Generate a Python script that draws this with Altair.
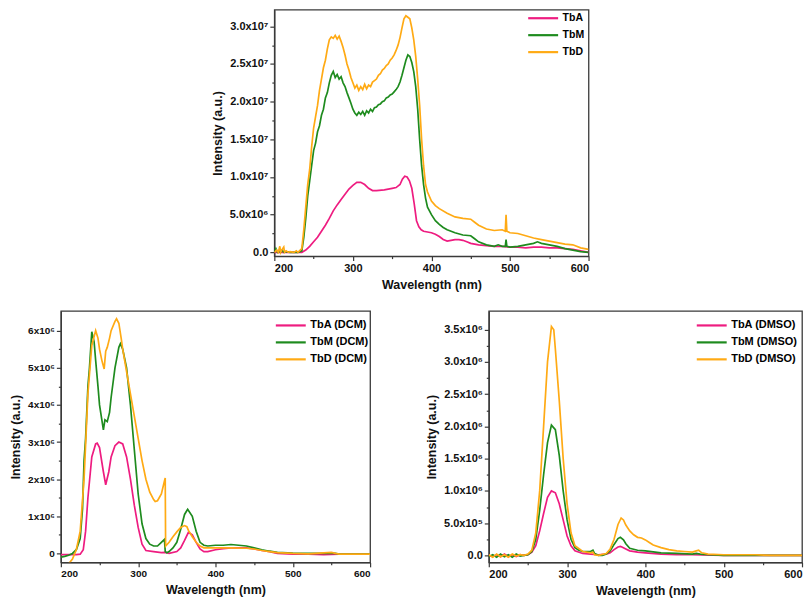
import altair as alt
import pandas as pd

# ---------------- data (top panel, units of 1e7) ----------------
top_A_wl = [200, 210, 220, 230, 235, 240, 245, 250, 255, 260, 265, 270, 275, 280, 285, 290, 295, 300, 305, 310,
            315, 320, 325, 330, 340, 350, 355, 360, 363, 366, 369, 372, 375, 378, 381, 384, 387, 390, 395, 400,
            405, 410, 415, 420, 425, 430, 435, 440, 445, 450, 460, 470, 480, 490, 500, 510, 520, 530, 540, 550,
            560, 570, 580, 590, 600]
top_A_val = [0.0, 0.0, 0.0, 0.0, 0.0, 0.03, 0.08, 0.14, 0.2, 0.28, 0.36, 0.45, 0.55, 0.63, 0.7, 0.77, 0.84, 0.89, 0.93, 0.93,
             0.9, 0.85, 0.82, 0.82, 0.83, 0.85, 0.86, 0.9, 0.97, 1.01, 1.0, 0.95, 0.85, 0.65, 0.42, 0.34, 0.3, 0.28, 0.27, 0.26,
             0.24, 0.21, 0.17, 0.15, 0.16, 0.17, 0.17, 0.16, 0.14, 0.12, 0.1, 0.09, 0.08, 0.08, 0.07, 0.07, 0.06, 0.07, 0.07, 0.06,
             0.06, 0.05, 0.04, 0.02, 0.0]

top_M_wl = [200, 202, 204, 206, 208, 210, 212, 215, 220, 225, 230, 235, 237.5, 240, 242.5, 245, 247.5, 250, 252.5, 255,
            257.5, 260, 262.5, 265, 267.5, 270, 272.5, 275, 277.5, 280, 282.5, 285, 287.5, 290, 292.5, 295, 297.5, 300,
            302.5, 305, 307.5, 310, 312.5, 315, 317.5, 320, 322.5, 325, 327.5, 330, 332.5, 335, 337.5, 340, 342.5, 345,
            347.5, 350, 352.5, 355, 357.5, 360, 362.5, 365, 367.5, 370, 372.5, 375, 377.5, 380, 382.5, 385, 387.5, 390,
            392.5, 395, 400, 405, 410, 415, 420, 430, 440, 450, 455, 460, 470, 480, 485, 490, 494, 495, 496, 500, 510,
            520, 530, 535, 540, 545, 550, 560, 570, 580, 590, 600]
top_M_val = [0.0, 0.05, 0.0, 0.02, 0.0, 0.03, 0.0, 0.01, 0.0, 0.0, 0.0, 0.02, 0.2, 0.45, 0.75, 0.95, 1.15, 1.35, 1.45, 1.6,
             1.68, 1.82, 1.9, 2.05, 2.12, 2.25, 2.35, 2.4, 2.32, 2.36, 2.3, 2.33, 2.25, 2.2, 2.12, 2.05, 1.98, 1.9,
             1.85, 1.82, 1.86, 1.83, 1.87, 1.82, 1.88, 1.85, 1.9, 1.87, 1.92, 1.93, 1.96, 1.97, 2.0, 2.01, 2.05, 2.06,
             2.09, 2.1, 2.13, 2.16, 2.2, 2.26, 2.35, 2.45, 2.55, 2.62, 2.6, 2.52, 2.4, 2.2, 1.9, 1.5, 1.15, 0.9,
             0.72, 0.6, 0.5, 0.42, 0.37, 0.33, 0.3, 0.26, 0.23, 0.22, 0.18, 0.14, 0.1, 0.08, 0.1, 0.08, 0.08, 0.17, 0.08, 0.07, 0.08,
             0.1, 0.12, 0.14, 0.12, 0.11, 0.1, 0.08, 0.05, 0.03, 0.01, 0.0]

top_D_wl = [200, 203, 205, 207, 208, 210, 212, 213, 215, 218, 220, 225, 228, 230, 233, 235, 237.5, 240, 242.5, 245,
            247.5, 250, 252.5, 255, 257.5, 260, 262.5, 265, 267.5, 270, 272.5, 275, 277.5, 280, 282.5, 285, 287.5, 290,
            292.5, 295, 297.5, 300, 302.5, 305, 307.5, 310, 312.5, 315, 317.5, 320, 322.5, 325, 327.5, 330, 332.5, 335,
            337.5, 340, 342.5, 345, 347.5, 350, 352.5, 355, 357.5, 360, 362.5, 365, 367.5, 370, 372.5, 375, 377.5, 380,
            382.5, 385, 387.5, 390, 392.5, 395, 400, 405, 410, 420, 430, 440, 450, 455, 460, 470, 480, 490, 494, 495,
            496, 500, 510, 520, 530, 540, 550, 560, 570, 580, 590, 600]
top_D_val = [0.0, 0.03, 0.0, 0.08, 0.0, 0.04, 0.07, 0.0, 0.02, 0.0, 0.01, 0.0, 0.02, 0.0, 0.03, 0.05, 0.3, 0.6, 0.9, 1.1,
             1.4, 1.65, 1.8, 1.95, 2.15, 2.3, 2.45, 2.55, 2.7, 2.82, 2.86, 2.84, 2.88, 2.83, 2.87, 2.8, 2.72, 2.62,
             2.5, 2.42, 2.32, 2.25, 2.18, 2.22, 2.15, 2.2, 2.16, 2.23, 2.17, 2.22, 2.2, 2.26, 2.28, 2.3, 2.35, 2.37,
             2.42, 2.44, 2.48, 2.5, 2.55, 2.58, 2.62, 2.68, 2.75, 2.85, 2.98, 3.1, 3.14, 3.12, 3.1, 2.98, 2.82, 2.6,
             2.3, 1.95, 1.5, 1.15, 0.9, 0.8, 0.68, 0.62, 0.58, 0.52, 0.47, 0.45, 0.44, 0.4, 0.36, 0.31, 0.29, 0.3, 0.28, 0.5,
             0.28, 0.26, 0.25, 0.22, 0.19, 0.17, 0.15, 0.13, 0.11, 0.1, 0.06, 0.04]

# ---------------- data (DCM panel, units of 1e6) ----------------
dcm_A_wl = [200, 210, 220, 225, 229, 232, 235, 240, 245, 247, 250, 255, 258, 262, 265, 270, 275, 280, 285, 290,
            295, 300, 305, 310, 320, 330, 335, 340, 350, 355, 360, 365, 370, 375, 380, 385, 390, 400, 410, 420,
            430, 440, 450, 460, 470, 480, 500, 520, 540, 560, 580, 600]
dcm_A_val = [-0.03, -0.03, -0.03, -0.02, 0.1, 0.6, 1.5, 2.6, 2.95, 2.97, 2.85, 2.2, 1.85, 2.2, 2.6, 2.9, 3.0, 2.95, 2.6, 2.0,
             1.3, 0.7, 0.25, 0.08, 0.05, 0.02, 0.03, 0.0, 0.05, 0.15, 0.35, 0.57, 0.5, 0.3, 0.12, 0.05, 0.05, 0.1, 0.13, 0.15,
             0.15, 0.15, 0.12, 0.08, 0.05, 0.0, -0.02, -0.02, -0.03, -0.02, -0.02, -0.02]

dcm_M_wl = [200, 205, 210, 215, 220, 225, 228, 230, 232, 235, 237, 240, 243, 245, 248, 250, 253, 255, 257, 260,
            263, 265, 270, 275, 277, 280, 285, 290, 295, 300, 305, 310, 315, 320, 325, 330, 334, 335, 337, 340,
            345, 350, 355, 360, 364, 370, 375, 380, 385, 390, 400, 410, 420, 430, 440, 450, 460, 470, 480, 500,
            520, 540, 555, 560, 580, 600]
dcm_M_val = [-0.1, -0.08, -0.05, 0.0, 0.1, 0.4, 1.2, 2.5, 3.1, 4.5, 5.0, 5.97, 5.7, 5.2, 4.5, 4.0, 3.6, 3.33, 3.6, 3.55,
             3.8, 4.2, 5.0, 5.55, 5.65, 5.5, 5.0, 4.0, 2.8, 1.6, 0.8, 0.4, 0.25, 0.2, 0.2, 0.3, 0.38, 0.05, 0.02, 0.05,
             0.15, 0.3, 0.65, 1.05, 1.19, 1.0, 0.6, 0.3, 0.22, 0.2, 0.22, 0.22, 0.24, 0.22, 0.2, 0.15, 0.1, 0.06, 0.03, 0.01,
             0.0, 0.0, 0.0, -0.02, -0.02, -0.02]

dcm_D_wl = [200, 205, 210, 215, 220, 225, 230, 235, 240, 245, 248, 250, 253, 256, 258, 260, 263, 265, 270, 272,
            275, 278, 280, 285, 290, 295, 300, 305, 310, 315, 320, 322, 325, 330, 334, 335, 335.5, 340, 345, 350,
            355, 360, 363, 365, 370, 375, 380, 385, 390, 400, 420, 440, 450, 460, 470, 480, 500, 520, 550, 555,
            560, 580, 600]
dcm_D_val = [-0.3, -0.3, -0.28, -0.15, 0.1, 0.6, 2.0, 4.3, 5.6, 6.0, 5.8, 5.5, 5.2, 4.97, 5.45, 5.55, 5.8, 6.0, 6.25, 6.32,
             6.2, 5.8, 5.5, 4.9, 4.3, 3.7, 3.1, 2.5, 2.0, 1.65, 1.45, 1.4, 1.42, 1.6, 1.95, 2.03, 0.2, 0.3, 0.45, 0.58,
             0.7, 0.75, 0.72, 0.62, 0.45, 0.3, 0.2, 0.15, 0.15, 0.15, 0.15, 0.14, 0.12, 0.08, 0.05, 0.02, 0.0, -0.01, 0.03, 0.0,
             -0.02, -0.02, -0.02]

# ---------------- data (DMSO panel, units of 1e6) ----------------
dmso_A_wl = [200, 205, 210, 215, 220, 225, 230, 235, 240, 245, 250, 255, 260, 265, 270, 275, 280, 285, 290, 295,
             300, 305, 310, 320, 330, 340, 350, 355, 360, 365, 368, 370, 375, 380, 390, 400, 420, 440, 460, 500,
             550, 600]
dmso_A_val = [0.0, -0.02, 0.01, -0.02, 0.02, -0.02, 0.01, -0.02, 0.01, 0.0, 0.01, 0.05, 0.15, 0.38, 0.65, 0.9, 1.0, 0.97, 0.8, 0.55,
              0.3, 0.15, 0.07, 0.03, 0.02, 0.01, 0.02, 0.04, 0.09, 0.13, 0.14, 0.13, 0.1, 0.07, 0.05, 0.04, 0.02, 0.01, 0.01, 0.0,
              0.0, 0.0]

dmso_M_wl = [200, 205, 210, 215, 220, 225, 230, 235, 240, 245, 250, 255, 260, 265, 270, 275, 280, 285, 290, 295,
             300, 305, 310, 315, 320, 330, 333, 335, 340, 345, 350, 355, 360, 365, 368, 372, 375, 380, 390, 400,
             420, 440, 460, 465, 470, 480, 500, 550, 600]
dmso_M_val = [-0.02, 0.01, -0.03, 0.02, -0.02, 0.01, -0.03, 0.02, -0.01, 0.0, 0.01, 0.06, 0.25, 0.7, 1.25, 1.75, 2.02, 1.95, 1.55, 1.0,
              0.55, 0.25, 0.12, 0.08, 0.06, 0.06, 0.08, 0.03, 0.0, 0.0, 0.02, 0.07, 0.17, 0.26, 0.28, 0.24, 0.18, 0.11, 0.08, 0.07,
              0.04, 0.03, 0.02, 0.03, 0.02, 0.01, 0.0, 0.0, 0.0]

dmso_D_wl = [200, 205, 210, 215, 220, 225, 230, 235, 240, 245, 250, 255, 260, 265, 270, 275, 280, 283, 285, 290,
             295, 300, 305, 310, 320, 330, 333, 335, 340, 350, 355, 360, 365, 369, 372, 375, 380, 385, 390, 395,
             400, 405, 410, 420, 430, 440, 450, 460, 465, 468, 472, 480, 500, 520, 540, 560, 600]
dmso_D_val = [0.01, -0.03, 0.02, -0.02, 0.01, -0.03, 0.02, -0.01, 0.01, 0.0, 0.02, 0.08, 0.35, 1.0, 2.0, 3.0, 3.55, 3.5, 3.2, 2.4,
              1.5, 0.8, 0.35, 0.15, 0.06, 0.04, 0.05, 0.01, 0.0, 0.03, 0.1, 0.25, 0.48, 0.58, 0.55, 0.47, 0.38, 0.32, 0.28, 0.27,
              0.24, 0.2, 0.16, 0.12, 0.09, 0.07, 0.06, 0.05, 0.07, 0.08, 0.04, 0.02, 0.01, 0.01, 0.01, 0.0, 0.0]

# ---------------- axis ticks / labels ----------------
x_major = [200, 300, 400, 500, 600]
x_minor = [250, 350, 450, 550]
top_vals = [0, 5e6, 1e7, 1.5e7, 2e7, 2.5e7, 3e7]
top_minor = [2.5e6, 7.5e6, 1.25e7, 1.75e7, 2.25e7, 2.75e7]
top_labs = ["0.0", "5.0x10⁶", "1.0x10⁷", "1.5x10⁷", "2.0x10⁷", "2.5x10⁷", "3.0x10⁷"]
dcm_vals = [0, 1e6, 2e6, 3e6, 4e6, 5e6, 6e6]
dcm_minor = [5e5, 1.5e6, 2.5e6, 3.5e6, 4.5e6, 5.5e6]
dcm_labs = ["0", "1x10⁶", "2x10⁶", "3x10⁶", "4x10⁶", "5x10⁶", "6x10⁶"]
dmso_vals = [0, 5e5, 1e6, 1.5e6, 2e6, 2.5e6, 3e6, 3.5e6]
dmso_minor = [2.5e5, 7.5e5, 1.25e6, 1.75e6, 2.25e6, 2.75e6, 3.25e6]
dmso_labs = ["0.0", "5.0x10⁵", "1.0x10⁶", "1.5x10⁶", "2.0x10⁶", "2.5x10⁶", "3.0x10⁶", "3.5x10⁶"]

COLORS = ["#EE1C80", "#1E8B1E", "#FFAA14"]
FONT = "Liberation Sans"
FRAME = "#3a3a3a"


def long_df(series, unit):
    rows = []
    for name, wl, val in series:
        for w, v in zip(wl, val):
            rows.append({"wl": w, "val": v * unit, "series": name})
    return pd.DataFrame(rows)


def label_expr(vals, labs):
    expr = "''"
    for v, l in reversed(list(zip(vals, labs))):
        expr = f"(abs(datum.value - {v}) < 1 ? '{l}' : {expr})"
    return expr


def panel(df, names, ydom, yvals, yminor, ylabs, w, h, lx, ly, lab_size, leg_size):
    xs = alt.Scale(domain=[200, 600], nice=False, zero=False)
    ys = alt.Scale(domain=ydom, nice=False, zero=False)
    lines = alt.Chart(df).mark_line(strokeWidth=1.7, clip=True).encode(
        x=alt.X("wl:Q", scale=xs,
                axis=alt.Axis(values=x_major, title="Wavelength (nm)", orient="bottom",
                              labelFontSize=lab_size, format="d")),
        y=alt.Y("val:Q", scale=ys,
                axis=alt.Axis(values=yvals, labelExpr=label_expr(yvals, ylabs), orient="left",
                              title="Intensity (a.u.)", labelFontSize=lab_size)),
        color=alt.Color("series:N",
                        scale=alt.Scale(domain=names, range=COLORS),
                        sort=names,
                        legend=alt.Legend(title=None, orient="none", legendX=lx, legendY=ly,
                                          symbolType="M-3,0H3", symbolSize=100, symbolStrokeWidth=2.2,
                                          labelFontSize=leg_size, labelFont=FONT, labelFontWeight="bold",
                                          rowPadding=5, padding=0, labelOffset=13)),
    )
    minor = alt.Chart(df).mark_line(opacity=0, clip=True).encode(
        x=alt.X("wl:Q", scale=xs,
                axis=alt.Axis(values=x_minor, labels=False, domain=False, title=None, orient="bottom",
                              tickSize=2.5)),
        y=alt.Y("val:Q", scale=ys,
                axis=alt.Axis(values=yminor, labels=False, domain=False, title=None, orient="left",
                              tickSize=2.5)),
        detail="series:N",
    )
    return alt.layer(lines, minor).resolve_axis(x="independent", y="independent").properties(width=w, height=h)


top_names = ["TbA", "TbM", "TbD"]
top_df = long_df([("TbA", top_A_wl, top_A_val), ("TbM", top_M_wl, top_M_val), ("TbD", top_D_wl, top_D_val)], 1e7)
dcm_names = ["TbA (DCM)", "TbM (DCM)", "TbD (DCM)"]
dcm_df = long_df([(dcm_names[0], dcm_A_wl, dcm_A_val), (dcm_names[1], dcm_M_wl, dcm_M_val),
                  (dcm_names[2], dcm_D_wl, dcm_D_val)], 1e6)
dmso_names = ["TbA (DMSO)", "TbM (DMSO)", "TbD (DMSO)"]
dmso_df = long_df([(dmso_names[0], dmso_A_wl, dmso_A_val), (dmso_names[1], dmso_M_wl, dmso_M_val),
                   (dmso_names[2], dmso_D_wl, dmso_D_val)], 1e6)

top = panel(top_df, top_names, [-5e5, 3.22e7], top_vals, top_minor, top_labs, 315, 247, 263, 2, 11, 10.5)
dcm = panel(dcm_df, dcm_names, [-2.4e5, 6.53e6], dcm_vals, dcm_minor, dcm_labs, 310, 252, 224, 8, 10, 11)
dmso = panel(dmso_df, dmso_names, [-1.08e5, 3.79e6], dmso_vals, dmso_minor, dmso_labs, 314, 252, 217, 8, 11, 11)

spacer = alt.Chart(pd.DataFrame({"a": [0]})).mark_point(opacity=0).encode(
    x=alt.X("a:Q", axis=None), y=alt.Y("a:Q", axis=None)
).properties(width=149, height=10, view=alt.ViewBackground(stroke="transparent"))

top_row = alt.hconcat(spacer, top, spacing=0).resolve_scale(color="independent")
bottom_row = alt.hconcat(dcm, dmso, spacing=53).resolve_scale(color="independent", x="independent", y="independent")

chart = alt.vconcat(top_row, bottom_row, spacing=18).resolve_scale(
    color="independent", x="independent", y="independent"
).properties(padding=0).configure_view(
    stroke=FRAME, strokeWidth=1.3
).configure_axis(
    grid=False, domainColor=FRAME, domainWidth=1.3, tickColor=FRAME, tickSize=4.5, tickWidth=1.2,
    labelFont=FONT, labelFontWeight="bold", labelColor="#111",
    titleFont=FONT, titleFontWeight="bold", titleFontSize=12.5, titleColor="#111",
    labelPadding=2, titlePadding=5
).configure_concat(spacing=0)

chart.save("out.html", embed_options={"renderer": "svg", "actions": False})
